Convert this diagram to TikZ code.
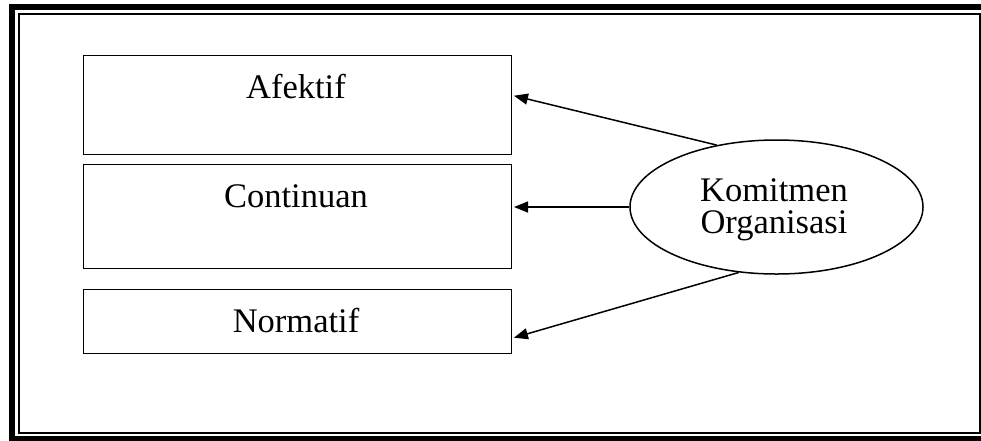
\documentclass[tikz,border=0pt]{standalone}
\usepackage{fontspec}
\setmainfont{Liberation Serif}
\usetikzlibrary{arrows.meta,shapes.geometric}
\begin{document}
\begin{tikzpicture}[x=1pt,y=-1pt,
  box/.style={draw,line width=1.5pt,rectangle,inner sep=0pt,anchor=north west,minimum width=428pt},
  lbl/.style={anchor=base,inner sep=0pt,font=\fontsize{34.5}{32}\selectfont},
  arr/.style={line width=1.5pt,shorten >=2pt,-{Triangle[length=14pt,width=11pt]}}]
\useasboundingbox (0,0) rectangle (981,440);
\clip (0,0) rectangle (981,440);
\draw[line width=6pt] (12,7) rectangle (990,439);
\draw[line width=2pt] (19,14) rectangle (979.5,432.5);
\node[box,minimum height=99pt] (af) at (82.5,54.5) {};
\node[box,minimum height=104pt] (co) at (82.5,163.5) {};
\node[box,minimum height=64pt] (nm) at (82.5,288.5) {};
\node[lbl] (afl) at (296,98) {Afektif};
\node[lbl] (col) at (296,207) {Continuan};
\node[lbl] (nml) at (296,332) {Normatif};
\node[draw,ellipse,line width=1.5pt,minimum width=293pt,minimum height=134pt,inner sep=0pt] (ko) at (776.5,207) {};
\node[lbl,anchor=center,align=center] (kol) at (774,210) {Komitmen\\Organisasi};
\draw[arr] (ko.134.3) -- ([yshift=9.5pt]af.east);
\draw[arr] (ko.west) -- (co.east |- ko.west);
\draw[arr] (ko.-120.6) -- ([yshift=-17pt]nm.east);
\end{tikzpicture}
\end{document}
